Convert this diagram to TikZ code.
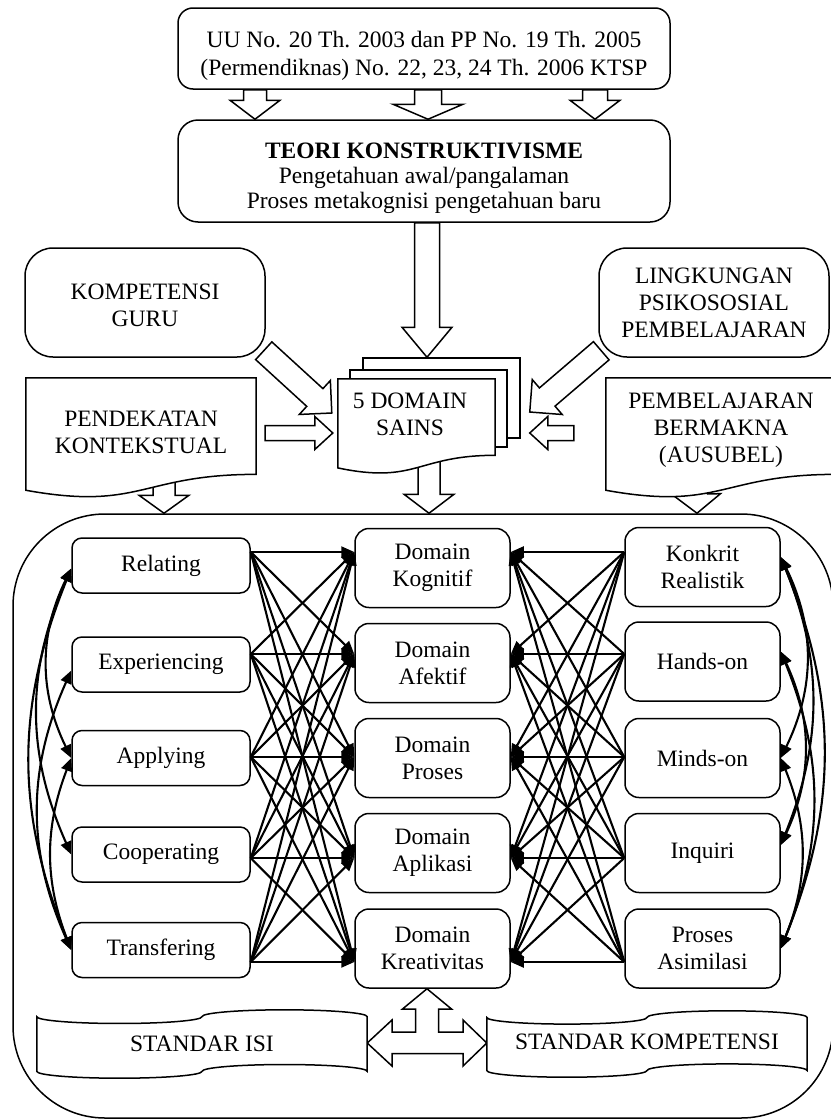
\documentclass[tikz,border=0pt]{standalone}
\usepackage{fontspec}
\setmainfont{Liberation Serif}
\usetikzlibrary{arrows.meta,calc,backgrounds}

% Block arrow from #1 to #2: shaft half-width #3, head half-width #4, head length #5
\newcommand\blockarrow[5]{%
  \path (#1) coordinate (ba-s) (#2) coordinate (ba-t);
  \path ($(ba-t)!#5!(ba-s)$) coordinate (ba-h);
  \draw[blk] ($(ba-s)!#3!90:(ba-t)$) -- ($(ba-h)!#3!-90:(ba-s)$) -- ($(ba-h)!#4!-90:(ba-s)$)
    -- (ba-t) -- ($(ba-h)!#4!90:(ba-s)$) -- ($(ba-h)!#3!90:(ba-s)$) -- ($(ba-s)!#3!-90:(ba-t)$) -- cycle;
}
% Flowchart "document" outline around the frame of node #1
\newcommand\docshape[1]{%
  \draw[outline] let \p1=(#1.north west), \p2=(#1.south east), \n1={\y1-\y2} in
    (\x1,\y1) -- (\x2,\y1) -- (\x2,\y1-0.802*\n1)
    .. controls ({(\x1+\x2)/2},\y1-0.802*\n1) and ({(\x1+\x2)/2},\y1-1.107*\n1) .. (\x1,\y1-0.934*\n1) -- cycle;
}
% Punched-tape outline around the frame of node #1
\newcommand\tapeshape[1]{%
  \draw[outline] let \p1=(#1.north west), \p2=(#1.south east), \n1={(\x2-\x1)/4}, \n2={(\y1-\y2)/10} in
    (\x1,\y1-\n2) arc[start angle=180,end angle=360,x radius=\n1,y radius=\n2]
    arc[start angle=180,end angle=0,x radius=\n1,y radius=\n2]
    -- (\x2,\y2+\n2)
    arc[start angle=0,end angle=180,x radius=\n1,y radius=\n2]
    arc[start angle=0,end angle=-180,x radius=\n1,y radius=\n2] -- cycle;
}

\begin{document}
\begin{tikzpicture}[x=1pt,y=-1pt,
  box/.style={draw,line width=1.5pt,fill=white,rounded corners=#1,inner sep=0pt},
  box/.default=14pt,
  page/.style={draw,line width=1.5pt,fill=white,inner sep=0pt},
  slot/.style={inner sep=0pt},
  txt/.style={font=\fontsize{23.5}{27}\selectfont,align=center,inner sep=0pt},
  link/.style={line width=2.1pt,-{Triangle[length=13pt,width=11pt]}},
  twoway/.style={line width=2.1pt,{Triangle[length=13pt,width=11pt]}-{Triangle[length=13pt,width=11pt]}},
  blk/.style={draw,line width=1.5pt,fill=white,line join=miter},
  outline/.style={draw,line width=1.5pt,fill=white},
]
\useasboundingbox (0,0) rectangle (830,1119);

% upper boxes
\node[box=15pt,minimum width=492pt,minimum height=81pt] (top) at (424,48.5) {};
\node[box=20pt,minimum width=492pt,minimum height=102pt] (teori) at (424,171) {};
\node[box=28pt,minimum width=240pt,minimum height=109pt] (kg) at (145,302.5) {};
\node[box=28pt,txt,minimum width=230pt,minimum height=109pt] (lk) at (714,302.5) {LINGKUNGAN\\PSIKOSOSIAL\\PEMBELAJARAN};

% frames for the document shapes and tapes
\node[slot,minimum width=230pt,minimum height=120pt] (pk) at (141,438) {};
\node[slot,minimum width=230pt,minimum height=120pt] (lb) at (721,438) {};
\node[page,minimum width=157pt,minimum height=80pt] (sains3) at (441.5,398) {};
\node[page,minimum width=157pt,minimum height=77pt] (sains2) at (428.5,408.5) {};
\node[slot,minimum width=157pt,minimum height=95pt] (sains) at (416.5,426.5) {};
\node[slot,minimum width=330pt,minimum height=68pt] (isi) at (202,1044) {};
\node[slot,minimum width=320pt,minimum height=66pt] (komp) at (647,1044) {};

% three columns
\foreach \n/\y/\t in {1/565.5/Relating,2/664.5/Experiencing,3/758/Applying,4/854.5/Cooperating,5/950/Transfering}
  \node[box=10pt,txt,minimum width=178pt,minimum height=55pt] (L\n) at (161,\y) {\t};
\foreach \n/\y/\t in {1/568/{Domain\\Kognitif},2/663/{Domain\\Afektif},3/758/{Domain\\Proses},4/853/{Domain\\Aplikasi},5/948.5/{Domain\\Kreativitas}}
  \node[box=14pt,txt,minimum width=155pt,minimum height=79pt] (M\n) at (432.5,\y) {\t};
\foreach \n/\y/\t in {1/567/{Konkrit\\Realistik},2/661.5/Hands-on,3/758/Minds-on,4/853/Inquiri,5/948.5/{Proses\\Asimilasi}}
  \node[box=14pt,txt,minimum width=155pt,minimum height=79pt] (R\n) at (702.5,\y) {\t};

% connection heights
\coordinate (p1) at (0,552);
\coordinate (p2) at (0,654);
\coordinate (p3) at (0,757);
\coordinate (p4) at (0,858);
\coordinate (p5) at (0,962);

% every approach and every principle feeds every domain
\foreach \i in {1,...,5} {
  \foreach \j in {1,...,5} {
    \draw[link] (L\i.east |- p\i) -- (M\j.west |- p\j);
    \draw[link] (R\i.west |- p\i) -- (M\j.east |- p\j);
  }
}

% links inside the left column
\draw[twoway] ([yshift=-3pt]L1.west) to[bend right=26] (L3.west);
\draw[twoway] ([yshift=-3pt]L1.west) to[bend right=24] (L4.west);
\draw[twoway] ([yshift=-3pt]L1.west) to[bend right=22] (L5.west);
\draw[twoway] ([yshift=-6pt]L2.west) to[bend right=24] (L5.west);
\draw[twoway] (L3.west) to[bend right=21] (L5.west);

% links inside the right column
\draw[twoway] ([yshift=10pt]R1.east) to[bend left=26] (R3.east);
\draw[twoway] ([yshift=10pt]R1.east) to[bend left=22] ([yshift=8pt]R4.east);
\draw[twoway] ([yshift=10pt]R1.east) to[bend left=22] (R5.east);
\draw[twoway] ([yshift=10pt]R2.east) to[bend left=25] ([yshift=8pt]R4.east);
\draw[twoway] ([yshift=10pt]R2.east) to[bend left=22] (R5.east);
\draw[twoway] (R3.east) to[bend left=22] (R5.east);

\begin{scope}[on background layer]
  \fill[white] (0,0) rectangle (830,1119);
  \node[draw,line width=1.5pt,rounded corners=92pt,minimum width=820pt,minimum height=604pt,inner sep=0pt] (frame) at (423,816) {};
  \blockarrow{[xshift=-169pt]top.south}{[xshift=-169pt]teori.north}{11.5pt}{25pt}{19pt}
  \blockarrow{[xshift=4pt]top.south}{[xshift=4pt]teori.north}{13.5pt}{35pt}{15pt}
  \blockarrow{[xshift=171pt]top.south}{[xshift=171pt]teori.north}{12.5pt}{25pt}{19pt}
  \blockarrow{[xshift=3pt]teori.south}{[xshift=-14.5pt]sains3.north}{12.5pt}{25pt}{30pt}
  \blockarrow{[xshift=-2pt,yshift=7pt]kg.south east}{[xshift=-6pt,yshift=13.5pt]sains.west}{12pt}{23pt}{23pt}
  \blockarrow{[xshift=3pt,yshift=7pt]lk.south west}{[xshift=9pt,yshift=-14pt]sains3.east}{12pt}{23pt}{23pt}
  \blockarrow{[xshift=9pt,yshift=5pt]pk.east}{[xshift=-5pt,yshift=-6.5pt]sains.west}{7.5pt}{16.5pt}{18pt}
  \blockarrow{[xshift=-32pt,yshift=5pt]lb.west}{[xshift=9pt,yshift=-35pt]sains3.east}{7.5pt}{16.5pt}{18pt}
  \blockarrow{[xshift=23pt,yshift=25pt]pk.south}{[xshift=-259pt]frame.north}{11pt}{25pt}{18pt}
  \blockarrow{[xshift=12.5pt,yshift=14pt]sains.south}{[xshift=6pt]frame.north}{11pt}{25pt}{19pt}
  \blockarrow{[xshift=-25pt,yshift=25pt]lb.south}{[xshift=274pt]frame.north}{11pt}{24pt}{19pt}
  % three-way arrow joining the standards and the creativity domain
  \coordinate (hub) at (427,1043);
  \draw[blk] (hub |- M5.south) -- ($(hub)+(24.5,-34)$) -- ($(hub)+(11.5,-34)$) -- ($(hub)+(11.5,-11)$)
    -- ($(hub)+(36,-11)$) -- ($(hub)+(36,-23)$) -- (komp.west |- hub) -- ($(hub)+(36,23)$)
    -- ($(hub)+(36,10.5)$) -- ($(hub)+(-35,10.5)$) -- ($(hub)+(-35,23)$) -- (isi.east |- hub)
    -- ($(hub)+(-35,-23)$) -- ($(hub)+(-35,-11)$) -- ($(hub)+(-11.5,-11)$) -- ($(hub)+(-11.5,-34)$)
    -- ($(hub)+(-24.5,-34)$) -- cycle;
\end{scope}

% document shapes and tapes
\docshape{pk}
\docshape{lb}
\docshape{sains}
\tapeshape{isi}
\tapeshape{komp}

% texts
\node[txt,font=\fontsize{23.5}{28}\selectfont] (topT) at (424,56) {UU No. 20 Th. 2003 dan PP No. 19 Th. 2005\\(Permendiknas) No. 22, 23, 24 Th. 2006 KTSP};
\node[txt,font=\fontsize{23.5}{25}\selectfont] (teoriT) at (424,178) {\textbf{TEORI KONSTRUKTIVISME}\\Pengetahuan awal/pangalaman\\Proses metakognisi pengetahuan baru};
\node[txt] (kgT) at (145,305) {KOMPETENSI\\GURU};
\node[txt] (pkT) at (141,432.5) {PENDEKATAN\\KONTEKSTUAL};
\node[txt] (lbT) at (721,430) {PEMBELAJARAN\\BERMAKNA\\(AUSUBEL)};
\node[txt] (sainsT) at (410,414) {5 DOMAIN\\SAINS};
\node[txt] (isiT) at (isi.center) {STANDAR ISI};
\node[txt] (kompT) at ([yshift=2pt]komp.center) {STANDAR KOMPETENSI};
\end{tikzpicture}
\end{document}
